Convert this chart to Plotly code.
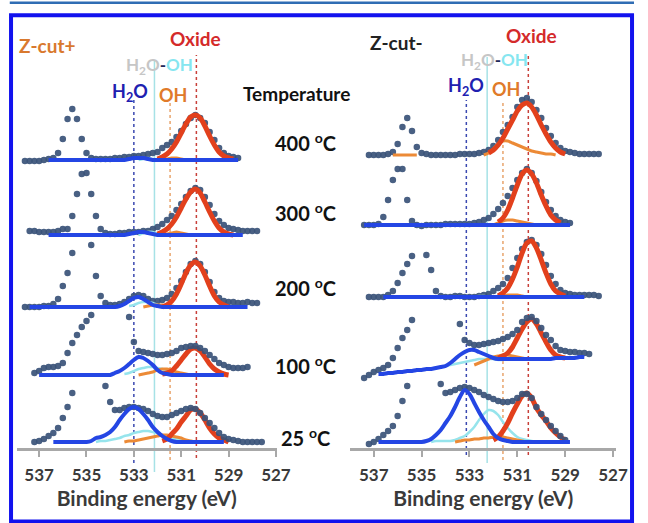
import plotly.graph_objects as go

# ---------------- data ----------------
ENERGY = [537.8, 537.6, 537.4, 537.2, 537.0, 536.8, 536.6, 536.4, 536.2, 536.0,
          535.8, 535.6, 535.4, 535.2, 535.0, 534.8, 534.6, 534.4, 534.2, 534.0,
          533.8, 533.6, 533.4, 533.2, 533.0, 532.8, 532.6, 532.4, 532.2, 532.0,
          531.8, 531.6, 531.4, 531.2, 531.0, 530.8, 530.6, 530.4, 530.2, 530.0,
          529.8, 529.6, 529.4, 529.2, 529.0, 528.8, 528.6, 528.4, 528.2, 528.0,
          527.8, 527.6]
TICKS = [537, 535, 533, 531, 529, 527]
TEMPS = ["400", "300", "200", "100", "25"]
LEFT_OFFSETS = [289, 214, 142, 74, 7]
RIGHT_OFFSETS = [294, 224, 152, 89, 7]
N = None

# each series: (first binding energy, values)
# ---- Z-cut+ ----
L400_dots = (537.6, [-1, -1, -1, -1, 0, 1, 2, 7, 21, 41, 51, 41, 21, 7, 2, 1, 1, 1, 1, 2, 2, 3, 3, 4, 4, 5, 6, 7, 8,
                     12, 15, 18, 23, 29, 36, 42, 45, 42, 37, 28, 20, 12, 7, 4, 3, 2])
L400_blue = (536.6, [0] * 17 + [1, 2, 2, 2, 1] + [0] * 19)
L400_cyan = (532.8, [0, 1, 2, 1, 0])
L400_orange = (531.8, [0, 1, 2, 2, 1, 0])
L400_red = (532.0, [1, 3, 6, 11, 18, 27, 36, 43, 45, 42, 34, 24, 15, 8, 4, 2, 1])

L300_dots = (537.4, [4, 4, 3, 3, 3, 3, 4, 6, 6, 19, 41, 61, 62, 41, 19, 6, 2, 1, 1, 2, 2, 3, 3, 3, 4, 4, 6, 8, 11,
                     15, 19, 25, 31, 38, 44, 47, 45, 38, 30, 21, 14, 10, 7, 6, 5, 4, 4, 4, 4])
L300_blue = (536.6, [0] * 17 + [1, 2, 3, 3, 2, 1] + [0] * 19)
L300_cyan = (532.8, [0, 2, 3, 3, 1, 0])
L300_orange = (531.8, [0, 1, 2, 3, 2, 1, 0])
L300_red = (532.0, [1, 3, 6, 11, 18, 27, 36, 43, 46, 42, 33, 23, 14, 7, 3, 1, 0])

L200_dots = (537.6, [0, 0, 0, 0, 1, 1, 3, 8, 21, 34, 54, N, N, N, 62, 31, 11, 4, 2, 2, 3, 5, 8, 11, 12, 11, 8, 6, 6,
                     7, 9, 13, 19, 26, 35, 43, 46, 43, 35, 25, 15, 9, 6, 5, 5, 4, 4, 5, 4, 4])
L200_blue = (537.4, [0] * 19 + [1, 3, 6, 9, 10, 8, 5, 2, 1] + [0] * 19)
L200_cyan = (533.2, [1, 2, 4, 5, 5, 4, 2, 1, 0])
L200_orange = (532.6, [0, 1, 2, 2, 2, 1, 1, 0])
L200_red = (531.8, [0, 2, 6, 13, 23, 34, 42, 45, 41, 32, 21, 11, 5, 2, 0])

L100_dots = (537.2, [2, 4, 7, 8, 8, 9, 12, 22, 32, 40, 48, 54, 60, N, N, N, N, N, N, N, 58, 33, 24, 23, 22, 21, 20,
                     20, 21, 22, 24, 27, 28, 29, 29, 27, 24, 20, 16, 12, 10, 8, 7, 7, 7, 8])
L100_blue = (537.0, [0] * 16 + [2, 4, 7, 11, 15, 18, 17, 14, 10, 5, 2, 1] + [0] * 12)
L100_cyan = (533.4, [1, 2, 4, 6, 7, 8, 8, 7, 6, 4, 3, 2, 1, 0])
L100_orange = (532.8, [0, 1, 2, 3, 5, 6, 6, 5, 3, 2, 1, 0])
L100_red = (531.8, [1, 2, 4, 9, 15, 21, 26, 27, 24, 18, 11, 6, 3, 1, 0])

L25_dots = (537.2, [0, 1, 3, 6, 9, 14, 24, 35, 49, N, N, N, N, N, N, 56, 40, 32, 32, 34, 35, 35, 34, 33, 31, 28, 26,
                    25, 25, 27, 29, 31, 33, 34, 33, 29, 24, 19, 14, 9, 5, 3, 2, 1, 0, 0, 0, 0, 0])
L25_blue = (536.4, [0] * 8 + [1, 4, 5, 7, 10, 15, 22, 28, 33, 35, 33, 28, 22, 15, 10, 6, 3, 1] + [0] * 11)
L25_cyan = (534.6, [0, 1, 1, 2, 3, 4, 6, 7, 9, 10, 11, 11, 10, 9, 7, 5, 4, 3, 2, 1, 1, 0])
L25_orange = (533.4, [0, 1, 1, 2, 3, 4, 5, 6, 7, 7, 6, 5, 4, 2, 1, 0])
L25_red = (531.8, [1, 3, 8, 13, 20, 26, 32, 33, 29, 22, 14, 8, 4, 2, 0])

# ---- Z-cut- ----
R400_dots = (537.2, [0, 0, 0, 0, 1, 3, 11, 28, 37, 24, 8, 2, 1, 0, 0, 0, 0, 0, 0, 1, 1, 1, 1, 2, 3, 5, 9, 15, 23,
                     30, 38, 48, 55, 57, 53, 45, 37, 27, 19, 12, 7, 4, 3, 2, 1, 1, 1, 1, 1])
R400_blue = (536.6, [])
R400_cyan = (532.8, [])
R400_orange_base = (536.2, [0, 0, 0, 0, 0, 0])
R400_orange = (532.4, [0, 2, 6, 11, 14, 14, 12, 10, 8, 6, 4, 3, 2, 1, 1, 0])
R400_red = (532.2, [2, 5, 10, 17, 26, 35, 44, 50, 52, 48, 40, 30, 21, 13, 7, 3, 1])

R300_dots = (537.4, [0, 0, 0, 1, 8, 25, 45, 56, 56, 25, 4, 0, -1, 0, 0, 0, 0, 1, 1, 1, 1, 1, 1, 2, 3, 5, 7, 11, 16,
                     22, 29, 37, 45, 52, 56, 52, 44, 33, 23, 15, 9, 5, 3, 2])
R300_blue = (537.4, [0] * 44)
R300_cyan = (532.8, [])
R300_orange = (532.0, [0, 2, 4, 5, 5, 4, 3, 2, 1, 0])
R300_red = (531.8, [3, 7, 15, 27, 40, 51, 55, 51, 42, 30, 19, 10, 5, 2])

R200_dots = (537.2, [0, 0, 0, 0, 2, 6, 14, 24, 33, 41, N, N, 42, 27, 6, 1, 0, 0, 1, 1, 0, 0, 0, 1, 2, 3, 6, 9, 13,
                     19, 29, 39, 48, 55, 57, 52, 43, 32, 21, 13, 7, 4, 3, 2, 2, 2, 2, 2, 1])
R200_blue = (536.6, [0] * 43)
R200_cyan = (532.8, [0, 1, 1, 0])
R200_orange = (531.8, [0, 1, 2, 2, 2, 1, 0])
R200_red = (531.8, [1, 4, 9, 18, 30, 44, 54, 56, 49, 37, 24, 13, 6, 3, 1])

R100_dots = (537.4, [-18, -15, -12, -10, -8, -5, 2, 12, 22, 30, 40, N, N, N, N, N, N, N, N, N, 36, 20, 17, 15, 15,
                     16, 17, 18, 19, 21, 23, 26, 30, 38, 42, 43, 39, 32, 25, 20, 14, 10, 9, 8, 8, 7, 7, 6])
R100_blue = (536.8, [-14, -14, -13, -13, -12, -12, -11, -11, -10, -10, -9, -9, -8, -7, -6, -3, 1, 5, 8, 10, 10, 8,
                     6, 4, 2, 1, 1, 1, 1, 1, 1, 1, 1, 1, 1, 1, 1, 2, 2, 2, 2, 2, 3, 3])
R100_cyan = (534.4, [-8, -7, -6, -5, -4, -3, -2, -1, 0, 1, 1, 1, 1, 0, 0])
R100_orange = (532.8, [-5, -3, -1, 1, 3, 4, 5, 5, 4, 3, 2, 1, 1])
R100_red = (531.8, [2, 4, 7, 13, 22, 31, 38, 41, 36, 27, 18, 10, 5, 3, 2])

R25_dots = (537.2, [-2, 0, 3, 7, 11, 16, 26, 41, 56, N, N, N, N, N, N, 58, 49, 50, 52, 54, 55, 54, 52, 50, 47, 45,
                    43, 41, 40, 40, 41, 44, 48, 48, 44, 35, 28, 22, 16, 11, 6, 2])
R25_blue = (536.8, [0] * 9 + [0, 1, 3, 7, 12, 19, 26, 35, 45, 52, 48, 39, 30, 22, 15, 8, 4, 2, 1, 0] + [0] * 12)
R25_cyan = (534.6, [0, 1, 1, 1, 1, 2, 4, 6, 10, 15, 22, 28, 32, 31, 27, 20, 14, 9, 5, 3, 2, 1, 0])
R25_orange = (533.6, [0, 1, 2, 2, 3, 3, 4, 4, 5, 5, 5, 4, 3, 2, 1, 0])
R25_red = (532.0, [2, 5, 11, 19, 29, 38, 46, 49, 44, 34, 27, 21, 14, 9, 5, 2])

LEFT = [
    (L400_dots, L400_cyan, [L400_orange], L400_red, L400_blue),
    (L300_dots, L300_cyan, [L300_orange], L300_red, L300_blue),
    (L200_dots, L200_cyan, [L200_orange], L200_red, L200_blue),
    (L100_dots, L100_cyan, [L100_orange], L100_red, L100_blue),
    (L25_dots, L25_cyan, [L25_orange], L25_red, L25_blue),
]
RIGHT = [
    (R400_dots, R400_cyan, [R400_orange_base, R400_orange], R400_red, R400_blue),
    (R300_dots, R300_cyan, [R300_orange], R300_red, R300_blue),
    (R200_dots, R200_cyan, [R200_orange], R200_red, R200_blue),
    (R100_dots, R100_cyan, [R100_orange], R100_red, R100_blue),
    (R25_dots, R25_cyan, [R25_orange], R25_red, R25_blue),
]

# reference lines (binding energy) for each panel: H2O, H2O-OH, OH, Oxide
LEFT_LINES = [533.0, 532.13, 531.47, 530.36]
RIGHT_LINES = [533.13, 532.26, 531.6, 530.54]

# ---------------- style ----------------
DOT = "#3a5278"
BLUE = "#2446e4"
RED = "#e2401c"
ORANGE = "#ec8a36"
CYAN = "#96e4ec"
FONT = "Lato"
RED_ON_TOP = [True, True, True, False, False]   # drawing order per spectrum


def seg(series, offset):
    start, vals = series
    i0 = int(round((ENERGY[0] - start) / 0.2))
    xs = ENERGY[i0:i0 + len(vals)]
    ys = [None if v is None else v + offset for v in vals]
    return xs, ys


fig = go.Figure()


def line_trace(series, off, xa, color, width):
    x, y = seg(series, off)
    fig.add_trace(go.Scatter(x=x, y=y, mode="lines", xaxis=xa, yaxis="y",
                             line=dict(color=color, width=width, shape="spline", smoothing=0.8),
                             hoverinfo="skip", showlegend=False))


def dot_trace(series, off, xa):
    x, y = seg(series, off)
    fig.add_trace(go.Scatter(x=x, y=y, mode="markers", xaxis=xa, yaxis="y",
                             marker=dict(size=6.5, color=DOT, opacity=0.92, line=dict(width=0)),
                             hoverinfo="skip", showlegend=False))


def add_panel(spectra, offsets, xa):
    for (dots, cyan, oranges, red, blue), off, red_top in zip(spectra, offsets, RED_ON_TOP):
        if red_top:
            dot_trace(dots, off, xa)
        if cyan[1]:
            line_trace(cyan, off, xa, CYAN, 2.5)
        for o in oranges:
            line_trace(o, off, xa, ORANGE, 3)
        line_trace(red, off, xa, RED, 5)
        if not red_top:
            dot_trace(dots, off, xa)
        if blue[1]:
            line_trace(blue, off, xa, BLUE, 4)


add_panel(LEFT, LEFT_OFFSETS, "x")
add_panel(RIGHT, RIGHT_OFFSETS, "x2")

# vertical marker lines
line_styles = [("#3a48b0", "dot"), ("#a6e2e6", "solid"), ("#e8a46c", "dot"), ("#c8403a", "dot")]
left_extent = [(349, -14), (389, -23), (349, -11), (394, -9)]
right_extent = [(349, -6), (392, -14), (349, -11), (394, -6)]
shapes = []
for xref, lines, ext in (("x", LEFT_LINES, left_extent), ("x2", RIGHT_LINES, right_extent)):
    for e, (col, dash), (y1, y0) in zip(lines, line_styles, ext):
        shapes.append(dict(type="line", xref=xref, yref="y", x0=e, x1=e, y0=y0, y1=y1,
                           line=dict(color=col, width=1.5, dash=dash), layer="below"))

# frame
shapes.append(dict(type="rect", xref="paper", yref="paper", x0=0.0174, x1=0.9969, y0=-0.0979, y1=0.9678,
                   line=dict(color="#1212ee", width=4)))
shapes.append(dict(type="line", xref="paper", yref="paper", x0=0.0154, x1=1.0, y0=0.9941, y1=0.9941,
                   line=dict(color="#2f6db4", width=2.5)))

ann = []


def label(text, x, y, color, size, xref, yref="y"):
    ann.append(dict(text="<b>" + text + "</b>", x=x, y=y, xref=xref, yref=yref, showarrow=False,
                    font=dict(family=FONT, size=size, color=color),
                    xanchor="center", yanchor="middle"))


h2o_oh = ('<span style="color:#c6c6c6">H<sub>2</sub>O</span>'
          '<span style="color:#1e2a5a">-</span>'
          '<span style="color:#86e6f0">OH</span>')

# left panel labels
label("Z-cut+", 536.63, 404, "#d9792e", 19, "x")
label("Oxide", 530.41, 410.5, "#d42a2a", 19, "x")
label(h2o_oh, 531.92, 383, "#c6c6c6", 17, "x")
label("H<sub>2</sub>O", 533.16, 357, "#2020b0", 18, "x")
label("OH", 531.36, 354, "#e07a2a", 18, "x")
# right panel labels
label("Z-cut-", 536.06, 406.5, "#222222", 19, "x2")
label("Oxide", 530.42, 414, "#d42a2a", 19, "x2")
label(h2o_oh, 531.97, 388, "#c6c6c6", 17, "x2")
label("H<sub>2</sub>O", 533.14, 363, "#2020b0", 18, "x2")
label("OH", 531.48, 360.5, "#e07a2a", 18, "x2")

# temperatures
label("Temperature", 0.468, 356, "#111111", 19, "paper")
temp_y = [307.5, 237.5, 162, 84, 12]
for t, ty in zip(TEMPS, temp_y):
    label(f"{t} <sup>o</sup>C", 0.482, ty, "#111111", 20, "paper")

axis_common = dict(
    anchor="free", position=26 / 475, showline=True, linecolor="#a8a8a8", linewidth=2.5,
    ticks="outside", ticklen=6, tickwidth=2, tickcolor="#a8a8a8",
    tickvals=TICKS, ticktext=["<b>%d</b>" % t for t in TICKS],
    tickfont=dict(family=FONT, size=17, color="#3a3a3a"),
    ticklabelstandoff=4,
    showgrid=False, zeroline=False,
    title=dict(text="<b>Binding energy (eV)</b>", font=dict(family=FONT, size=21, color="#3a3a3a"),
               standoff=4),
)

fig.update_layout(
    width=648, height=523,
    margin=dict(l=0, r=0, t=0, b=48),
    paper_bgcolor="white", plot_bgcolor="white",
    showlegend=False,
    xaxis=dict(domain=[17 / 648, 283 / 648], range=[537.95, 526.96], **axis_common),
    xaxis2=dict(domain=[358 / 648, 630 / 648], range=[537.98, 526.86], **axis_common),
    yaxis=dict(range=[-26, 449], visible=False, domain=[0, 1]),
    shapes=shapes,
    annotations=ann,
)

fig.write_html("out.html", config={"displayModeBar": False})
